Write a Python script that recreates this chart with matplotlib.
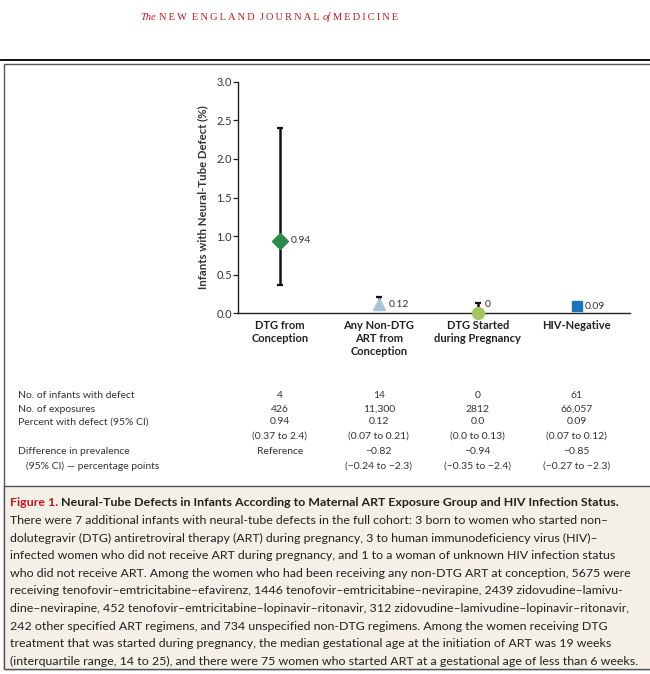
import matplotlib
matplotlib.use("Agg")
import matplotlib.pyplot as plt
from matplotlib.patches import Rectangle

# data
groups = ["DTG from\nConception", "Any Non-DTG\nART from\nConception",
          "DTG Started\nduring Pregnancy", "HIV-Negative"]
pct = [0.94, 0.12, 0.0, 0.09]
ci_low = [0.37, 0.07, 0.0, 0.07]
ci_high = [2.4, 0.21, 0.13, 0.12]
point_labels = ["0.94", "0.12", "0", "0.09"]

n_defect = ["4", "14", "0", "61"]
n_exposures = ["426", "11,300", "2812", "66,057"]
pct_text = ["0.94", "0.12", "0.0", "0.09"]
pct_ci_text = ["(0.37 to 2.4)", "(0.07 to 0.21)", "(0.0 to 0.13)", "(0.07 to 0.12)"]
diff_text = ["Reference", "\u22120.82", "\u22120.94", "\u22120.85"]
diff_ci_text = ["", "(\u22120.24 to \u22122.3)", "(\u22120.35 to \u22122.4)", "(\u22120.27 to \u22122.3)"]
row_labels = ["No. of infants with defect", "No. of exposures", "Percent with defect (95% CI)",
              "", "Difference in prevalence", "   (95% CI) \u2014 percentage points"]

yticks = [0.0, 0.5, 1.0, 1.5, 2.0, 2.5, 3.0]

caption_title = "Neural-Tube Defects in Infants According to Maternal ART Exposure Group and HIV Infection Status."
caption_lines = [
    "There were 7 additional infants with neural-tube defects in the full cohort: 3 born to women who started non\u2013",
    "dolutegravir (DTG) antiretroviral therapy (ART) during pregnancy, 3 to human immunodeficiency virus (HIV)\u2013",
    "infected women who did not receive ART during pregnancy, and 1 to a woman of unknown HIV infection status",
    "who did not receive ART. Among the women who had been receiving any non-DTG ART at conception, 5675 were",
    "receiving tenofovir\u2013emtricitabine\u2013efavirenz, 1446 tenofovir\u2013emtricitabine\u2013nevirapine, 2439 zidovudine\u2013lamivu-",
    "dine\u2013nevirapine, 452 tenofovir\u2013emtricitabine\u2013lopinavir\u2013ritonavir, 312 zidovudine\u2013lamivudine\u2013lopinavir\u2013ritonavir,",
    "242 other specified ART regimens, and 734 unspecified non-DTG regimens. Among the women receiving DTG",
    "treatment that was started during pregnancy, the median gestational age at the initiation of ART was 19 weeks",
    "(interquartile range, 14 to 25), and there were 75 women who started ART at a gestational age of less than 6 weeks.",
]

markers = ["D", "^", "o", "s"]
colors = ["#2b8a4c", "#a9c6d6", "#a3c65c", "#1b74bb"]
msizes = [8, 9, 8.5, 7]
label_offsets = [(8, 0), (7, 0), (5, 6), (5.5, 0)]

plt.rcParams["font.family"] = ["Lato", "DejaVu Sans"]
W, H = 650, 674
fig = plt.figure(figsize=(W / 100, H / 100), dpi=100)


def fx(x):
    return x / W


def fy(y):
    return 1 - y / H


red = "#c4161c"
txt = "#333333"


def spaced(s):
    return "\u2009".join(s)


# header: small caps look with letter spacing
head_parts = [("The", "italic", 7.5), (spaced("NEW") + "  " + spaced("ENGLAND") + "  " + spaced("JOURNAL"), "normal", 7.5),
              ("of", "italic", 7.5), (spaced("MEDICINE"), "normal", 7.5)]
fig.canvas.draw()
rend = fig.canvas.get_renderer()
xcur = fx(140)
for s, st, fs in head_parts:
    t = fig.text(xcur, fy(17), s, color=red, family=["Liberation Serif", "DejaVu Serif"],
                 fontsize=fs, style=st, ha="left", va="center")
    bb = t.get_window_extent(renderer=rend)
    xcur = (bb.x1 + 3) / W

fig.add_artist(plt.Line2D([0, 1], [fy(59.5), fy(59.5)], color="black", lw=1.3))
fig.add_artist(Rectangle((fx(4), fy(669)), 1, fy(63.5) - fy(669), fill=False,
                         edgecolor="#555555", lw=1.0))
fig.add_artist(Rectangle((fx(4), fy(669)), 1, fy(486) - fy(669), facecolor="#f4f0e7",
                         edgecolor="#555555", lw=1.0))

# plot
ax = fig.add_axes([fx(238.3), fy(313.3), fx(630) - fx(238.3), fy(81.7) - fy(313.3)])
xs = list(range(len(groups)))
for i in xs:
    ax.errorbar(xs[i], pct[i], yerr=[[pct[i] - ci_low[i]], [ci_high[i] - pct[i]]],
                fmt="none", ecolor="#111111", elinewidth=1.8, capsize=2.5, capthick=1.6, zorder=2)
    ax.plot(xs[i], pct[i], marker=markers[i], color=colors[i], markersize=msizes[i],
            linestyle="none", zorder=3, clip_on=False)
    ax.annotate(point_labels[i], (xs[i], pct[i]), xytext=label_offsets[i],
                textcoords="offset points", fontsize=7.5, color=txt, va="center", ha="left")

ax.set_xlim(-0.4216, 3.539)
ax.set_ylim(0, 3.0)
ax.set_yticks(yticks)
ax.set_yticklabels([f"{t:.1f}" for t in yticks], fontsize=8, color=txt)
ax.set_xticks([])
ax.tick_params(axis="y", length=3.5, width=0.9, pad=1, colors="#222222", labelcolor=txt)
for s in ["top", "right"]:
    ax.spines[s].set_visible(False)
for s in ["left", "bottom"]:
    ax.spines[s].set_linewidth(1.0)
    ax.spines[s].set_color("#222222")
ax.set_ylabel("Infants with Neural-Tube Defect (%)", fontsize=8.2, fontweight="bold",
              color=txt, labelpad=6)
ax.patch.set_alpha(0)

for i in xs:
    ax.text(xs[i], -0.09, groups[i], ha="center", va="top", fontsize=8, fontweight="bold",
            color="#222222", linespacing=1.2)

# table
row_y = [396, 409, 422, 436, 452, 466]
for lab, y in zip(row_labels, row_y):
    if lab:
        fig.text(fx(18), fy(y), lab, fontsize=7.5, color=txt, va="center", ha="left")
cols = [n_defect, n_exposures, pct_text, pct_ci_text, diff_text, diff_ci_text]
for vals, y in zip(cols, row_y):
    for i in xs:
        if vals[i]:
            xd = ax.transData.transform((xs[i], 0))[0]
            fig.text(xd / W, fy(y), vals[i], fontsize=7.5, color=txt, va="center", ha="center")

# caption
t1 = fig.text(fx(10), fy(502), "Figure 1.", fontsize=8.95, fontweight="bold", color=red,
              va="center", ha="left")
bb = t1.get_window_extent(renderer=rend)
fig.text((bb.x1 + 3) / W, fy(502), caption_title, fontsize=8.95, fontweight="bold",
         color="#222222", va="center", ha="left")
for k, line in enumerate(caption_lines):
    fig.text(fx(10), fy(520.5 + k * 17.6), line, fontsize=8.95, color="#222222",
             va="center", ha="left")

fig.savefig("out.png", dpi=100)
